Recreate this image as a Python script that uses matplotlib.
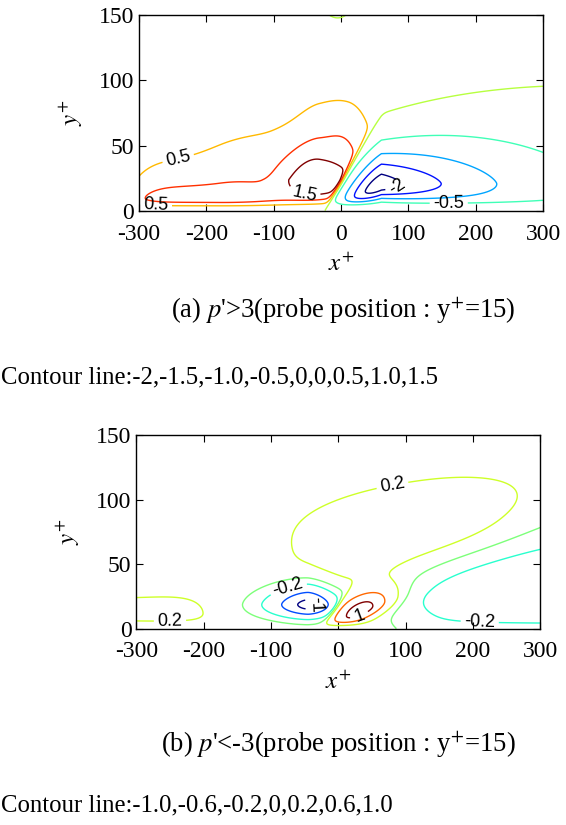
import numpy as np
import matplotlib.pyplot as plt

plt.rcParams['font.family'] = 'Liberation Serif'
plt.rcParams['mathtext.fontset'] = 'stix'
plt.rcParams['axes.unicode_minus'] = False

# Contour levels of each panel
levels_a = [-2.0, -1.5, -1.0, -0.5, 0.0, 0.5, 1.0, 1.5]
levels_b = [-1.0, -0.6, -0.2, 0.0, 0.2, 0.6, 1.0]
xticks = [-300, -200, -100, 0, 100, 200, 300]
yticks = [0, 50, 100, 150]

# Structures, one row per structure:
# x0, y0, amplitude, width up-/downstream, shape up-/downstream,
# width below/above, shape above, tilt up-/downstream, growth downstream
a_left = [(-32, 24, 1.9, 48, 90, 2, 2, 14, 30, 1, 0, 0, 0),       # high pressure head
          (-180, 9, 1.4, 140, 150, 6, 2, 30, 26, 1, 0, 0, 0),     # near-wall tail
          (-100, 40, 0.35, 100, 60, 2, 2, 25, 30, 2, 0, 0, 0),    # upper shoulder
          (10, 60, 0.3, 40, 30, 2, 2, 25, 25, 2, 0, 0, 0)]        # upper front
a_right = [(60, 21, -2.35, 63, 210, 2, 1, 13, 27, 1.5, 0.25, 0, 0.5)]  # low pressure
a_common = [(200, 110, 0.2, 500, 500, 2, 2, 70, 300, 2, 0, 0, 0),
            (-5, 168, -1.2, 20, 20, 2, 2, 15, 15, 2, 0, 0, 0)]
a_split = (-25, 1.1, 4.0)   # interface x at y=0, dx/dy, thickness
a_wall = 6.0

b_left = [(-45, 19, -1.3, 55, 45, 1.6, 1.6, 10, 14, 1.6, 0, 0, 0)]
b_right = [(33, 14, 1.1, 45, 45, 2, 2, 8, 13, 2, 0.2, 0.2, 0)]
b_common = [(125, 76, 0.45, 160, 150, 2, 2, 50, 36, 3, 0.08, 0.08, 0),
            (300, 28, -0.6, 230, 200, 4, 2, 30, 45, 2, 0, 0, 0),
            (-300, 12, 0.2, 100, 120, 2, 4, 12, 19, 2, 0, 0, 0),
            (-50, 80, 0.1, 500, 500, 2, 2, 150, 150, 2, 0, 0, 0)]
b_split = (-25, 1.3, 7.0)
b_wall = 4.0


def blob(X, Y, p):
    x0, y0, amp, sxl, sxr, pxl, pxr, syd, syu, py, tl, tr, grow = p
    dx = X - x0
    up = dx < 0
    sx = np.where(up, sxl, sxr)
    px = np.where(up, pxl, pxr)
    dy = Y - y0 - np.where(up, tl, tr) * dx
    g = np.clip(1 + grow * dx / 100.0, 0.3, None)
    sy = np.where(dy < 0, syd, syu) * g
    pw = np.where(dy < 0, 2, py)
    return amp * np.exp(-np.abs(dx / sx) ** px - np.abs(dy / sy) ** pw)


def field(X, Y, left, right, common, split, wall):
    xb0, slope, thick = split
    w = 0.5 * (1 - np.tanh((X - (xb0 + slope * Y)) / thick))
    L = sum(blob(X, Y, p) for p in left)
    R = sum(blob(X, Y, p) for p in right)
    C = sum(blob(X, Y, p) for p in common)
    return (w * L + (1 - w) * R + C) * (1 - np.exp(-(Y / wall) ** 2))


def style_axes(ax):
    ax.set_xlim(-300, 300)
    ax.set_ylim(0, 150)
    ax.set_xticks(xticks)
    ax.set_yticks(yticks)
    ax.tick_params(direction='in', top=True, right=True, labelsize=17,
                   length=5, width=0.8)
    ax.tick_params(axis='x', pad=9)
    for s in ax.spines.values():
        s.set_linewidth(1.0)
    ax.set_xlabel('$x^{+}$', fontsize=18, labelpad=6)
    ax.set_ylabel('$y^{+}$', fontsize=18, labelpad=10)


x = np.linspace(-300, 300, 401)
y = np.linspace(0.3, 150, 241)
X, Y = np.meshgrid(x, y)

fig = plt.figure(figsize=(5.66, 8.25), dpi=100)

# (a)
ax1 = fig.add_axes([0.2456, 0.7442, 0.7138, 0.2376])
Za = field(X, Y, a_left, a_right, a_common, a_split, a_wall)
cs1 = ax1.contour(X, Y, Za, levels=levels_a, cmap='jet', vmin=-2.0, vmax=1.5,
                  linewidths=1.0)
ax1.clabel(cs1, fmt='%g', fontsize=13, colors='k', inline=True,
           manual=[(-240, 36), (-275, 3), (-55, 12), (85, 17), (160, 6)])
style_axes(ax1)

# (b)
ax2 = fig.add_axes([0.2409, 0.2376, 0.7138, 0.2352])
Zb = field(X, Y, b_left, b_right, b_common, b_split, b_wall)
cs2 = ax2.contour(X, Y, Zb, levels=levels_b, cmap='jet', vmin=-1.0, vmax=1.0,
                  linewidths=1.0)
ax2.clabel(cs2, fmt='%g', fontsize=13, colors='k', inline=True,
           manual=[(80, 112), (-75, 33), (-28, 20), (30, 12), (-250, 4), (210, 6)])
style_axes(ax2)

for t in ax1.texts + ax2.texts:
    t.set_family('Liberation Sans')

fig.text(0.607, 1 - 311 / 825, "(a) $p$'>3(probe position : y$^{+}$=15)",
         ha='center', va='center', fontsize=19.2)
fig.text(0.002, 1 - 377 / 825, 'Contour line:-2,-1.5,-1.0,-0.5,0,0,0.5,1.0,1.5',
         ha='left', va='center', fontsize=17.8)
fig.text(0.597, 1 - 745 / 825, "(b) $p$'<-3(probe position : y$^{+}$=15)",
         ha='center', va='center', fontsize=19.2)
fig.text(0.002, 1 - 805 / 825, 'Contour line:-1.0,-0.6,-0.2,0,0.2,0.6,1.0',
         ha='left', va='center', fontsize=17.8)

fig.savefig('out.png', dpi=100)
